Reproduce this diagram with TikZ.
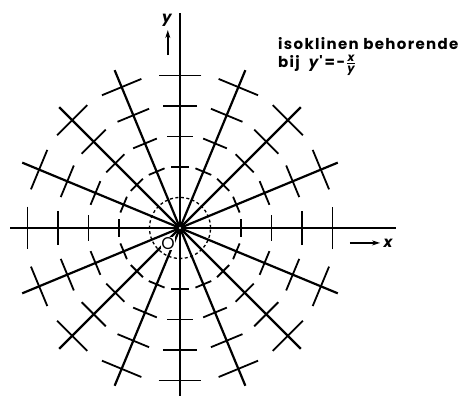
\documentclass[tikz,border=0pt]{standalone}
\usepackage{amsmath}
\usepackage{fontspec}
\newfontfamily\labelfont[LetterSpace=9]{Poppins}
\newfontfamily\signfont{Poppins}
\usetikzlibrary{arrows.meta}

\begin{document}
\begin{tikzpicture}[x=30.5pt,y=30.5pt,
    axis/.style={line width=2.7pt},
    isoline/.style={line width=2.2pt},
    slope/.style={line width=1.8pt},
    lbl/.style={font=\labelfont\bfseries\fontsize{15}{15}\selectfont, inner sep=0pt},
    pointer/.style={-{Stealth[length=8pt,width=5pt]}, line width=1.6pt}]
        \useasboundingbox (-5.902,-5.508) rectangle (9.443,7.475);
        % Axes
        \draw[axis] (-5.57,0) -- (7.08,0);
        \draw[axis] (0,-5.51) -- (0,7.05);
        % Isoclines
        \foreach \a in {22.5,45,67.5,112.5,135,157.5,202.5,225,247.5,292.5,315,337.5} {
          \draw[isoline] (0,0) -- (\a:5.6);
        }
        % Line elements, slope -x/y
        \foreach \a in {0,22.5,...,337.5} {
          \foreach \r in {2,3,4,5} {
            \draw[slope, rotate=\a] (\r,-0.14*\r) -- (\r,0.14*\r);
          }
        }
        \draw[slope, line width=1.3pt, dash pattern=on 3pt off 2.5pt] (0,0) circle (1);
        \fill (0,0) circle (4pt);
        \fill[white] (0,0) circle (1.2pt);
        % Labels
        \node[fill=white, inner sep=0.6pt, font=\signfont\fontsize{17}{17}\selectfont] (origin) at (-0.39,-0.52) {O};
        \node[inner sep=0pt, font=\signfont\bfseries\itshape\fontsize{15}{15}\selectfont] (ylab) at (-0.43,6.82) {y};
        \coordinate (ytail) at (-0.40,5.67);
        \coordinate (yhead) at (-0.40,6.49);
        \draw[pointer] (ytail) -- (yhead);
        \node[inner sep=0pt, font=\signfont\bfseries\itshape\fontsize{15}{15}\selectfont] (xlab) at (6.82,-0.49) {x};
        \coordinate (xtail) at (5.57,-0.49);
        \coordinate (xhead) at (6.56,-0.49);
        \draw[pointer] (xtail) -- (xhead);
        \node[lbl, anchor=base west] (title) at (3.21,5.84) {isoklinen behorende};
        \node[lbl, anchor=base west] (formula) at (3.21,5.27)
          {bij\hspace{9pt}{\signfont\itshape y}\kern1pt\textquotesingle\kern2pt{\signfont=\kern1.5pt-}\kern1pt%
           $\genfrac{}{}{0.9pt}{}{\mbox{\signfont\bfseries\itshape\fontsize{11.5}{11.5}\selectfont x}}{\mbox{\signfont\bfseries\itshape\fontsize{11.5}{11.5}\selectfont y}}$};
\end{tikzpicture}
\end{document}
